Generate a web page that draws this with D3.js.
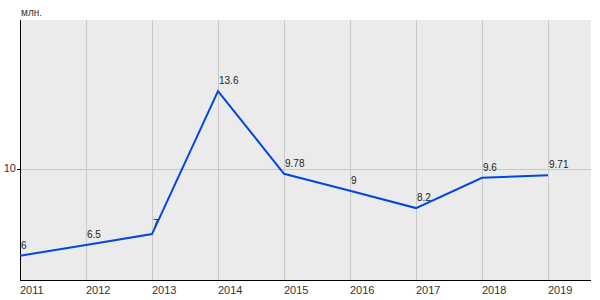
<!DOCTYPE html>
<meta charset="utf-8">
<title>млн.</title>
<style>
  body { margin: 0; background: #fff; }
  text { font-family: "Liberation Sans", Arial, sans-serif; }
</style>
<body>
<div id="chart"></div>
<script src="https://d3js.org/d3.v7.min.js"></script>
<script>
  // data
  const years = [2011, 2012, 2013, 2014, 2015, 2016, 2017, 2018, 2019];
  const values = [6, 6.5, 7, 13.6, 9.78, 9, 8.2, 9.6, 9.71];
  const labels = ["6", "6.5", "7", "13.6", "9.78", "9", "8.2", "9.6", "9.71"];
  const yTicks = [10];
  const unit = "млн.";

  const W = 600, H = 300;
  // plot box edges
  const pL = 20, pR = 591, pT = 20, pB = 280;

  const svg = d3.select("#chart").append("svg")
    .attr("width", W).attr("height", H);

  const x = d3.scaleLinear().domain([2011, 2019]).range([pL, 548]);
  const y = d3.scaleLinear().domain([4.88, 16.88]).range([pB, pT]);

  // plot background
  svg.append("rect")
    .attr("x", pL).attr("y", pT)
    .attr("width", pR - pL).attr("height", pB - pT)
    .attr("fill", "#ebebeb");

  // vertical grid
  svg.append("g").selectAll("line")
    .data(years.slice(1))
    .join("line")
      .attr("x1", d => Math.round(x(d)) + 0.5).attr("x2", d => Math.round(x(d)) + 0.5)
      .attr("y1", pT).attr("y2", pB)
      .attr("stroke", "#c8c8c8");

  // horizontal grid + y labels
  svg.append("g").selectAll("line")
    .data(yTicks)
    .join("line")
      .attr("x1", pL).attr("x2", pR)
      .attr("y1", d => Math.round(y(d)) + 0.5).attr("y2", d => Math.round(y(d)) + 0.5)
      .attr("stroke", "#c8c8c8");
  svg.append("g").selectAll("line")
    .data(yTicks)
    .join("line")
      .attr("x1", pL - 3).attr("x2", pL)
      .attr("y1", d => Math.round(y(d)) + 0.5).attr("y2", d => Math.round(y(d)) + 0.5)
      .attr("stroke", "#000");
  svg.append("g").selectAll("text")
    .data(yTicks)
    .join("text")
      .attr("x", pL - 4).attr("y", d => y(d) + 3)
      .attr("text-anchor", "end")
      .attr("font-size", 11).attr("fill", "#333")
      .text(d => d);

  // axes lines
  svg.append("line")
    .attr("x1", pL + 0.5).attr("x2", pL + 0.5)
    .attr("y1", pT).attr("y2", pB)
    .attr("stroke", "#000");
  svg.append("line")
    .attr("x1", pL).attr("x2", pR)
    .attr("y1", pB + 0.5).attr("y2", pB + 0.5)
    .attr("stroke", "#000");

  // x labels
  svg.append("g").selectAll("text")
    .data(years)
    .join("text")
      .attr("x", d => x(d))
      .attr("y", 294)
      .attr("font-size", 11).attr("fill", "#333")
      .text(d => d);

  // unit label
  svg.append("text")
    .attr("x", pL + 1).attr("y", 16)
    .attr("font-size", 10).attr("fill", "#333")
    .text(unit);

  // line
  const line = d3.line()
    .x((d, i) => x(years[i]))
    .y(d => y(d));
  svg.append("path")
    .datum(values)
    .attr("d", line)
    .attr("fill", "none")
    .attr("stroke", "#0048e0")
    .attr("stroke-width", 2);

  // value labels
  svg.append("g").selectAll("text")
    .data(values)
    .join("text")
      .attr("x", (d, i) => x(years[i]) + 1)
      .attr("y", d => y(d) - 7)
      .attr("font-size", 10).attr("fill", "#222")
      .text((d, i) => labels[i]);
</script>
</body>
